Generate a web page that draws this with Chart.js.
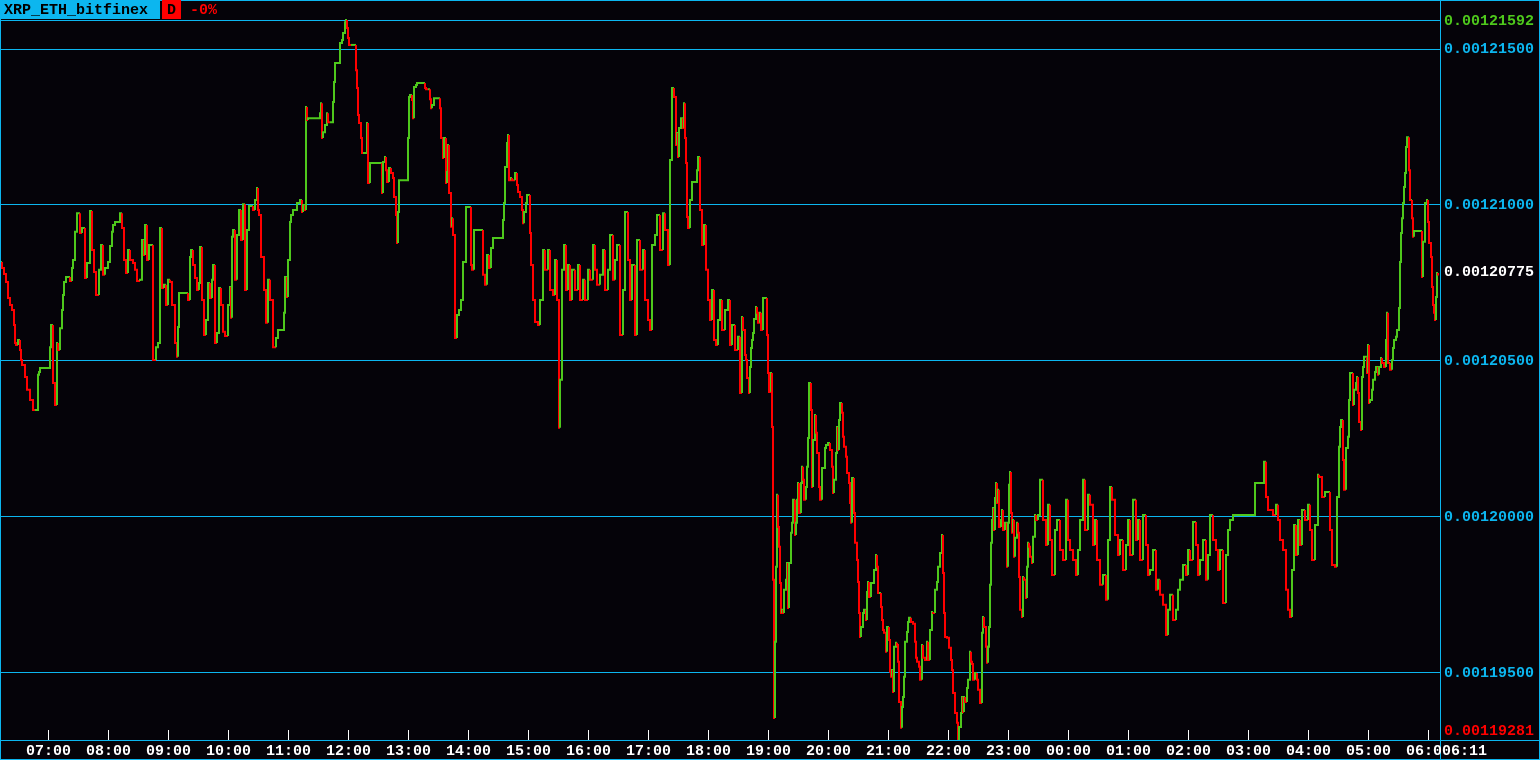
<!DOCTYPE html>
<html>
<head>
<meta charset="utf-8">
<title>XRP_ETH_bitfinex</title>
<script src="https://cdn.jsdelivr.net/npm/chart.js@4.4.1/dist/chart.umd.min.js"></script>
<style>
  html, body { margin: 0; padding: 0; background: #050309; overflow: hidden; }
  #wrap { width: 1540px; height: 760px; }
</style>
</head>
<body>
<div id="wrap"><canvas id="c" width="1540" height="760"></canvas></div>
<script>
// header / ticker
const symbol = "XRP_ETH_bitfinex";
const periodTag = "D";
const changeText = "-0%";

// first minute on the chart, and the hour labels along the bottom
const startTime = "06:12";
const hourLabels = ["07:00", "08:00", "09:00", "10:00", "11:00", "12:00", "13:00", "14:00",
  "15:00", "16:00", "17:00", "18:00", "19:00", "20:00", "21:00", "22:00", "23:00",
  "00:00", "01:00", "02:00", "03:00", "04:00", "05:00", "06:00"];

// price levels on the right scale (units of 1e-8 ETH)
const priceLevels = [121500, 121000, 120500, 120000, 119500];

// minutes since startTime
const tMin = [0,2,4,6,8,10,12,14,15,16,18,20,21,22,25,27,30,33,35,38,39,40,43,50,51,53,55,57,58,60,
  62,63,64,66,68,70,72,73,75,77,80,82,85,87,90,92,94,96,99,101,103,105,108,110,112,113,115,117,120,122,
  124,126,128,130,133,135,137,140,142,144,145,147,149,151,153,156,158,160,162,164,166,168,170,172,175,177,178,179,181,183,
  188,190,191,193,195,197,199,200,202,204,206,208,210,212,213,215,217,219,221,223,225,228,230,231,232,233,235,237,239,241,
  243,245,247,249,251,253,255,257,258,259,261,264,266,268,270,273,276,278,280,284,285,287,288,290,291,293,297,300,302,303,
  305,306,307,308,310,320,321,322,323,325,327,328,330,333,334,335,337,340,342,343,345,346,347,348,349,351,356,357,358,359,
  361,362,363,367,368,370,372,382,383,385,386,387,389,391,393,394,396,397,398,399,400,408,409,410,412,413,414,416,417,421,
  425,426,428,430,431,432,434,437,440,441,443,444,446,447,448,449,451,452,453,455,457,459,461,463,466,469,471,472,474,476,
  483,485,487,489,491,493,497,503,504,505,507,508,509,511,512,515,517,518,520,522,523,524,526,527,530,531,533,535,538,540,
  543,545,548,550,553,555,557,559,560,562,564,566,568,570,572,575,578,580,583,585,588,590,593,595,597,600,603,605,608,610,
  613,615,617,620,623,625,628,630,632,635,637,640,643,645,648,650,652,655,657,660,663,665,668,670,672,674,676,677,678,679,
  681,683,684,685,686,687,688,690,692,693,697,698,700,702,704,706,708,710,712,714,716,718,720,722,725,728,730,732,735,738,
  740,742,743,745,746,747,749,750,751,752,753,754,756,757,758,760,761,763,764,767,768,769,771,772,773,774,775,776,777,778,
  779,780,781,782,783,784,786,787,788,789,791,792,793,795,796,797,798,799,801,802,803,804,806,807,808,809,811,812,813,815,
  816,817,819,820,822,823,825,826,828,830,832,833,834,836,837,838,839,840,842,843,844,846,847,849,850,851,852,854,855,857,
  858,859,860,861,863,864,866,867,868,869,871,872,874,876,877,878,879,881,882,883,884,886,887,889,890,891,892,893,894,896,
  897,898,899,901,902,903,904,905,907,908,909,911,913,915,916,917,919,920,922,923,925,927,928,930,932,933,935,937,938,940,
  942,943,944,945,947,949,951,952,953,955,957,958,959,961,962,963,964,965,967,968,970,971,972,973,975,977,978,980,982,983,
  984,986,987,988,989,990,991,992,993,994,995,996,997,998,999,1001,1002,1003,1005,1007,1008,1009,1010,1011,1012,1013,1014,1015,1017,1018,
  1019,1020,1022,1023,1024,1026,1027,1028,1029,1030,1032,1033,1035,1036,1038,1040,1043,1046,1048,1050,1052,1055,1057,1060,1063,1066,1068,1070,1073,1076,
  1078,1080,1083,1085,1088,1090,1093,1095,1097,1100,1103,1106,1108,1110,1112,1115,1118,1120,1123,1126,1128,1130,1133,1136,1138,1140,1143,1146,1148,1150,
  1153,1156,1158,1160,1163,1166,1168,1170,1173,1176,1178,1180,1183,1186,1188,1190,1193,1196,1198,1200,1203,1206,1208,1210,1213,1216,1218,1220,1223,1226,
  1228,1230,1233,1236,1240,1245,1250,1255,1258,1264,1266,1268,1273,1276,1278,1280,1283,1286,1288,1290,1292,1294,1296,1298,1300,1302,1305,1308,1310,1312,
  1315,1318,1319,1322,1325,1327,1330,1332,1335,1337,1339,1340,1341,1343,1344,1346,1348,1349,1350,1351,1353,1354,1356,1357,1358,1359,1361,1362,1363,1364,
  1365,1367,1368,1369,1370,1372,1373,1375,1376,1378,1379,1381,1382,1384,1386,1387,1388,1389,1390,1392,1393,1394,1396,1397,1399,1400,1401,1402,1403,1404,
  1405,1406,1407,1409,1410,1411,1412,1413,1414,1415,1422,1423,1425,1427,1428,1429,1431,1432,1433,1434,1435,1436,1437,1438,1439];

// close price per sample, units of 1e-8 ETH
const priceE8 = [120815,120815,120796,120777,120751,120700,120677,120661,120613,120555,120549,120565,120533,120501,120485,120446,120405,120372,120340,120340,120453,120462,120475,120475,120542,120613,120427,120356,120555,120533,
  120603,120661,120709,120751,120767,120767,120754,120796,120822,120912,120972,120908,120924,120764,120812,120979,120854,120783,120709,120790,120870,120774,120796,120815,120867,120912,120934,120944,120944,120972,
  120924,120822,120780,120854,120822,120812,120790,120754,120758,120886,120838,120934,120822,120870,120870,120501,120542,120555,120924,120732,120742,120677,120758,120751,120677,120555,120511,120607,120716,120716,
  120716,120693,120831,120854,120806,120764,120725,120748,120863,120693,120581,120629,120748,120700,120758,120806,120555,120587,120732,120677,120591,120578,120677,120735,120636,120896,120918,120758,120902,120982,
  120886,121001,120725,120918,120995,120995,120982,121014,121053,120982,120966,120831,120725,120620,120758,120693,120542,120571,120597,120597,120652,120767,120703,120822,120944,120966,120982,121005,121014,120976,
  120998,120982,121313,121271,121277,121277,121293,121325,121213,121232,121255,121293,121264,121264,121329,121393,121454,121454,121518,121528,121550,121585,121592,121566,121534,121512,121512,121431,121374,121287,
  121261,121213,121165,121165,121261,121069,121133,121133,121037,121136,121152,121110,121072,121117,121101,121085,121024,120966,120876,120976,121078,121078,121213,121345,121351,121335,121277,121377,121383,121390,
  121390,121374,121370,121370,121338,121309,121319,121341,121341,121309,121213,121149,121213,121069,121104,121191,121037,120928,120956,120902,120571,120645,120661,120693,120815,120992,120992,120806,120790,120918,
  120918,120774,120742,120838,120796,120860,120892,120892,120950,121005,121120,121197,121223,121078,121085,121078,121101,121062,121040,121024,120982,120940,120976,121005,121030,120908,120806,120693,120623,120613,
  120693,120854,120790,120854,120725,120709,120822,120693,120283,120437,120790,120870,120725,120806,120693,120790,120725,120806,120693,120758,120693,120790,120758,120870,120790,120742,120774,120854,120725,120790,
  120902,120758,120822,120870,120581,120725,120976,120822,120693,120806,120581,120886,120790,120854,120693,120629,120597,120870,120902,120966,120854,120972,120918,120806,121143,121374,121345,121191,121229,121152,
  121245,121277,121245,121325,121213,121133,120960,120924,121014,121072,121072,121110,121152,120982,120870,120934,120790,120693,120629,120725,120565,120549,120629,120693,120597,120661,120693,120549,120613,120533,
  120575,120395,120639,120597,120517,120501,120443,120395,120478,120539,120565,120587,120632,120671,120652,120620,120652,120597,120700,120700,120581,120459,120398,120459,120286,119795,119352,119596,119837,120068,
  119965,119901,119785,119689,119699,119689,119763,119795,119849,119705,119849,119946,119978,120052,119939,119978,120052,120106,120010,120106,120158,120116,120052,120093,120158,120250,120427,120340,120093,120244,
  120324,120267,120202,120093,120052,120154,120154,120218,120228,120234,120212,120158,120074,120116,120202,120286,120212,120308,120363,120331,120254,120222,120190,120138,120106,120042,119978,120122,120010,119914,
  119859,119788,119689,119612,119644,119689,119699,119666,119756,119788,119740,119785,119785,119827,119875,119837,119753,119753,119708,119666,119634,119625,119564,119644,119602,119500,119484,119506,119435,119580,
  119593,119586,119532,119403,119320,119387,119419,119484,119596,119628,119660,119673,119660,119654,119596,119545,119532,119516,119474,119586,119545,119538,119596,119538,119634,119692,119689,119763,119788,119837,
  119881,119939,119817,119689,119612,119609,119577,119538,119506,119432,119368,119336,119281,119323,119368,119419,119371,119419,119403,119448,119474,119564,119532,119525,119474,119496,119474,119442,119400,119625,
  119676,119644,119580,119529,119580,119644,119779,119914,119987,120026,119955,120058,120106,120042,120084,119965,119987,120019,119955,119978,119837,119978,120100,120141,120010,119946,119987,119869,119930,119978,
  119946,119804,119699,119676,119804,119795,119737,119837,119914,119901,119869,119849,119933,120003,119987,120003,120116,119987,119907,120036,119923,119811,119955,119987,119891,119859,120052,119923,119891,119859,
  119811,119891,119987,120116,119955,120068,120036,119907,119987,119859,119779,119811,119731,119923,120093,120052,119939,119875,119923,119827,119907,119987,119875,120052,119923,119987,119859,120003,119907,119811,
  119827,119891,119763,119795,119747,119715,119618,119699,119747,119666,119699,119763,119795,119843,119811,119891,119859,119981,119907,119811,119859,119923,119795,119875,120003,119923,119891,119827,119891,119721,
  119875,119955,119987,120003,120003,120003,120003,120003,120106,120106,120174,120061,120019,120003,120036,119987,119923,119891,119763,119699,119676,119827,119971,119875,119987,119907,120019,119987,120036,119955,
  119859,119971,120132,120125,120061,120077,120077,119955,119843,119837,120061,120222,120286,120308,120180,120084,120218,120254,120372,120459,120459,120356,120405,120427,120446,120395,120302,120276,120446,120478,
  120511,120511,120459,120549,120363,120372,120405,120437,120462,120478,120453,120478,120507,120491,120478,120565,120652,120491,120491,120469,120501,120539,120565,120575,120597,120668,120815,120908,120956,121005,
  121056,121101,121184,121216,121110,121014,121014,120956,120896,120915,120915,120767,120880,121005,121014,120944,120876,120831,120735,120677,120652,120629,120703,120780,120775];

const BG = "#050309";
const CYAN = "#0cb6ef";
const GREEN = "#4ec81c";
const RED = "#ff0000";
const WHITE = "#ffffff";
const FONT = 'bold 15px "Liberation Mono", "DejaVu Sans Mono", monospace';

const toMin = s => { const p = s.split(":"); return +p[0] * 60 + +p[1]; };
const sinceStart = s => (toMin(s) - toMin(startTime) + 1440) % 1440;
const fmtPrice = v => (v / 1e8).toFixed(8);
const fmtTime = m => { const t = (toMin(startTime) + m) % 1440; return String(Math.floor(t / 60)).padStart(2, "0") + ":" + String(t % 60).padStart(2, "0"); };

const hi = Math.max(...priceE8);
const lo = Math.min(...priceE8);
const last = priceE8[priceE8.length - 1];

const terminal = {
  id: "terminal",
  beforeDraw(chart) {
    const ctx = chart.ctx;
    ctx.save();
    ctx.fillStyle = BG;
    ctx.fillRect(0, 0, chart.width, chart.height);
    ctx.restore();
  },
  beforeDatasetsDraw(chart) {
    const ctx = chart.ctx, ys = chart.scales.y, a = chart.chartArea;
    ctx.save();
    ctx.strokeStyle = CYAN;
    ctx.lineWidth = 1;
    priceLevels.concat([hi]).forEach(v => {
      const y = Math.round(ys.getPixelForValue(v)) + 0.5;
      ctx.beginPath(); ctx.moveTo(0, y); ctx.lineTo(a.right, y); ctx.stroke();
    });
    ctx.restore();
  },
  afterDraw(chart) {
    const ctx = chart.ctx, xs = chart.scales.x, ys = chart.scales.y, a = chart.chartArea;
    const W = chart.width, H = chart.height;
    ctx.save();
    ctx.font = FONT;
    ctx.textBaseline = "middle";

    // frame, axis line and right divider
    ctx.strokeStyle = CYAN;
    ctx.lineWidth = 1;
    ctx.beginPath();
    ctx.moveTo(0, 0.5); ctx.lineTo(W, 0.5);
    ctx.moveTo(0.5, 0); ctx.lineTo(0.5, H);
    ctx.moveTo(W - 0.5, 0); ctx.lineTo(W - 0.5, H);
    ctx.moveTo(0, H - 0.5); ctx.lineTo(W, H - 0.5);
    ctx.moveTo(0, a.bottom + 0.5); ctx.lineTo(W, a.bottom + 0.5);
    ctx.moveTo(a.right + 0.5, 0); ctx.lineTo(a.right + 0.5, H);
    ctx.stroke();

    // hour ticks and labels
    ctx.strokeStyle = WHITE;
    ctx.fillStyle = WHITE;
    ctx.textAlign = "center";
    hourLabels.forEach(l => {
      const x = Math.round(xs.getPixelForValue(sinceStart(l))) + 0.5;
      ctx.beginPath(); ctx.moveTo(x, a.bottom - 10); ctx.lineTo(x, a.bottom); ctx.stroke();
      ctx.fillText(l, x, a.bottom + 11);
    });

    // last time box
    ctx.fillStyle = BG;
    ctx.fillRect(a.right + 1, a.bottom + 1, W - a.right - 2, H - a.bottom - 2);
    ctx.fillStyle = WHITE;
    ctx.textAlign = "left";
    ctx.fillText(fmtTime(tMin[tMin.length - 1]), a.right + 2, a.bottom + 11);

    // right price labels
    const lx = a.right + 4;
    ctx.fillStyle = CYAN;
    priceLevels.forEach(v => ctx.fillText(fmtPrice(v), lx, ys.getPixelForValue(v) + 1));
    ctx.fillStyle = GREEN;
    ctx.fillText(fmtPrice(hi), lx, ys.getPixelForValue(hi) + 1);
    ctx.fillStyle = WHITE;
    ctx.fillText(fmtPrice(last), lx, ys.getPixelForValue(last) - 2);
    ctx.fillStyle = RED;
    ctx.fillText(fmtPrice(lo), lx, Math.min(ys.getPixelForValue(lo), a.bottom - 10) + 1);

    // header tag
    ctx.fillStyle = CYAN;
    ctx.fillRect(0, 0, 160, 19);
    ctx.fillStyle = RED;
    ctx.fillRect(162, 0, 19, 19);
    ctx.fillStyle = "#000000";
    ctx.fillText(symbol, 4, 10);
    ctx.fillText(periodTag, 167, 10);
    ctx.fillStyle = RED;
    ctx.fillText(changeText, 190, 10);
    ctx.restore();
  }
};

new Chart(document.getElementById("c"), {
  type: "line",
  data: {
    datasets: [{
      data: tMin.map((t, i) => ({ x: t, y: priceE8[i] })),
      stepped: "after",
      borderWidth: 2,
      borderColor: GREEN,
      pointRadius: 0,
      segment: {
        borderColor: c => c.p1.parsed.y < c.p0.parsed.y ? RED : GREEN
      }
    }]
  },
  options: {
    responsive: false,
    animation: false,
    events: [],
    layout: { padding: { left: 0, right: 100, top: 0, bottom: 20 } },
    plugins: { legend: { display: false }, tooltip: { enabled: false } },
    scales: {
      x: { type: "linear", display: false, min: 0, max: 1440 },
      y: { display: false, min: lo, max: hi + (hi - lo) * 20 / 720 }
    }
  },
  plugins: [terminal]
});
</script>
</body>
</html>
